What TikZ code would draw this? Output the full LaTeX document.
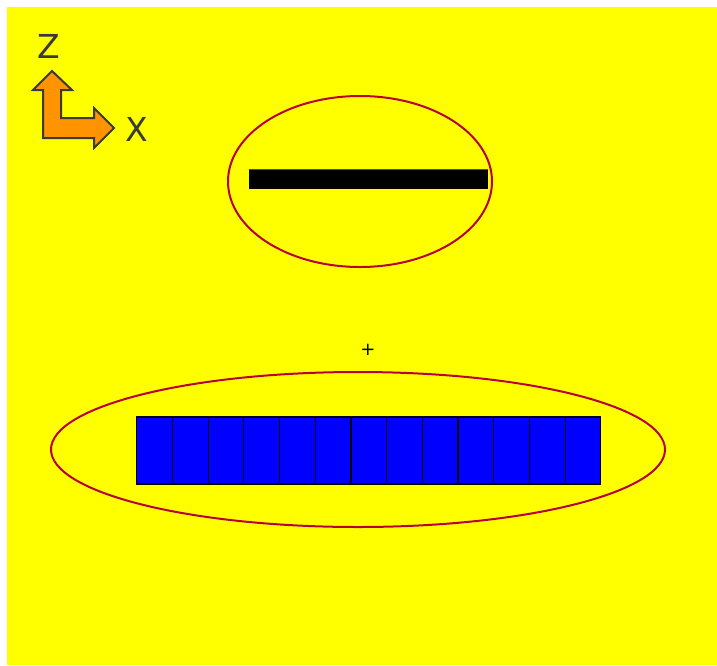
\documentclass[tikz,border=0pt]{standalone}
\usepackage{fontspec}
\newfontfamily\axisfont{DejaVu Sans}
\usetikzlibrary{shapes.geometric,positioning}
\definecolor{bgyellow}{HTML}{FFFF00}
\definecolor{ringred}{HTML}{B8003C}
\definecolor{arroworange}{HTML}{FF9400}
\definecolor{axisgray}{HTML}{3A3A3A}
\begin{document}
\begin{tikzpicture}[
  x=1pt, y=-1pt,
  ring/.style={ellipse, draw=ringred, line width=2pt, inner sep=0pt},
  cell/.style={draw=black, line width=1.2pt, fill=blue, inner sep=0pt, outer sep=0pt,
               minimum width=35.7pt, minimum height=67pt},
  axislbl/.style={font=\axisfont\fontsize{33}{33}\selectfont, text=axisgray, inner sep=0pt},
]
\useasboundingbox (0,0) rectangle (717,665);
\fill[bgyellow] (7,7) rectangle (717,665);
% axis marker
\draw[fill=arroworange, draw=axisgray, line width=2pt, line join=miter]
  (52,71) -- (72,90) -- (61,90) -- (61,118) -- (94,118) -- (94,108) -- (114,128)
  -- (94,148) -- (94,138) -- (43,138) -- (43,90) -- (33,90) -- cycle;
\node[axislbl] (zlbl) at (49,46) {Z};
\node[axislbl] (xlbl) at (137,129) {X};

% upper ring with bar
\node[ring, minimum width=264pt, minimum height=171pt] (upring) at (360,181.5) {};
\node[fill=black, inner sep=0pt, minimum width=239pt, minimum height=19pt] (bar) at (368.5,179.5) {};
\draw[red, line width=1pt] (bar.north west) -- (bar.north east);

% centre mark
\node[font=\axisfont\fontsize{18}{18}\selectfont, inner sep=0pt] (mark) at (368,350) {+};

% lower ring with cells
\node[ring, minimum width=614pt, minimum height=155pt] (lowring) at (358,449.5) {};
\foreach \i in {0,...,12}
  \node[cell] (c\i) at ({154.55+35.7*\i},450.5) {};
\end{tikzpicture}
\end{document}
